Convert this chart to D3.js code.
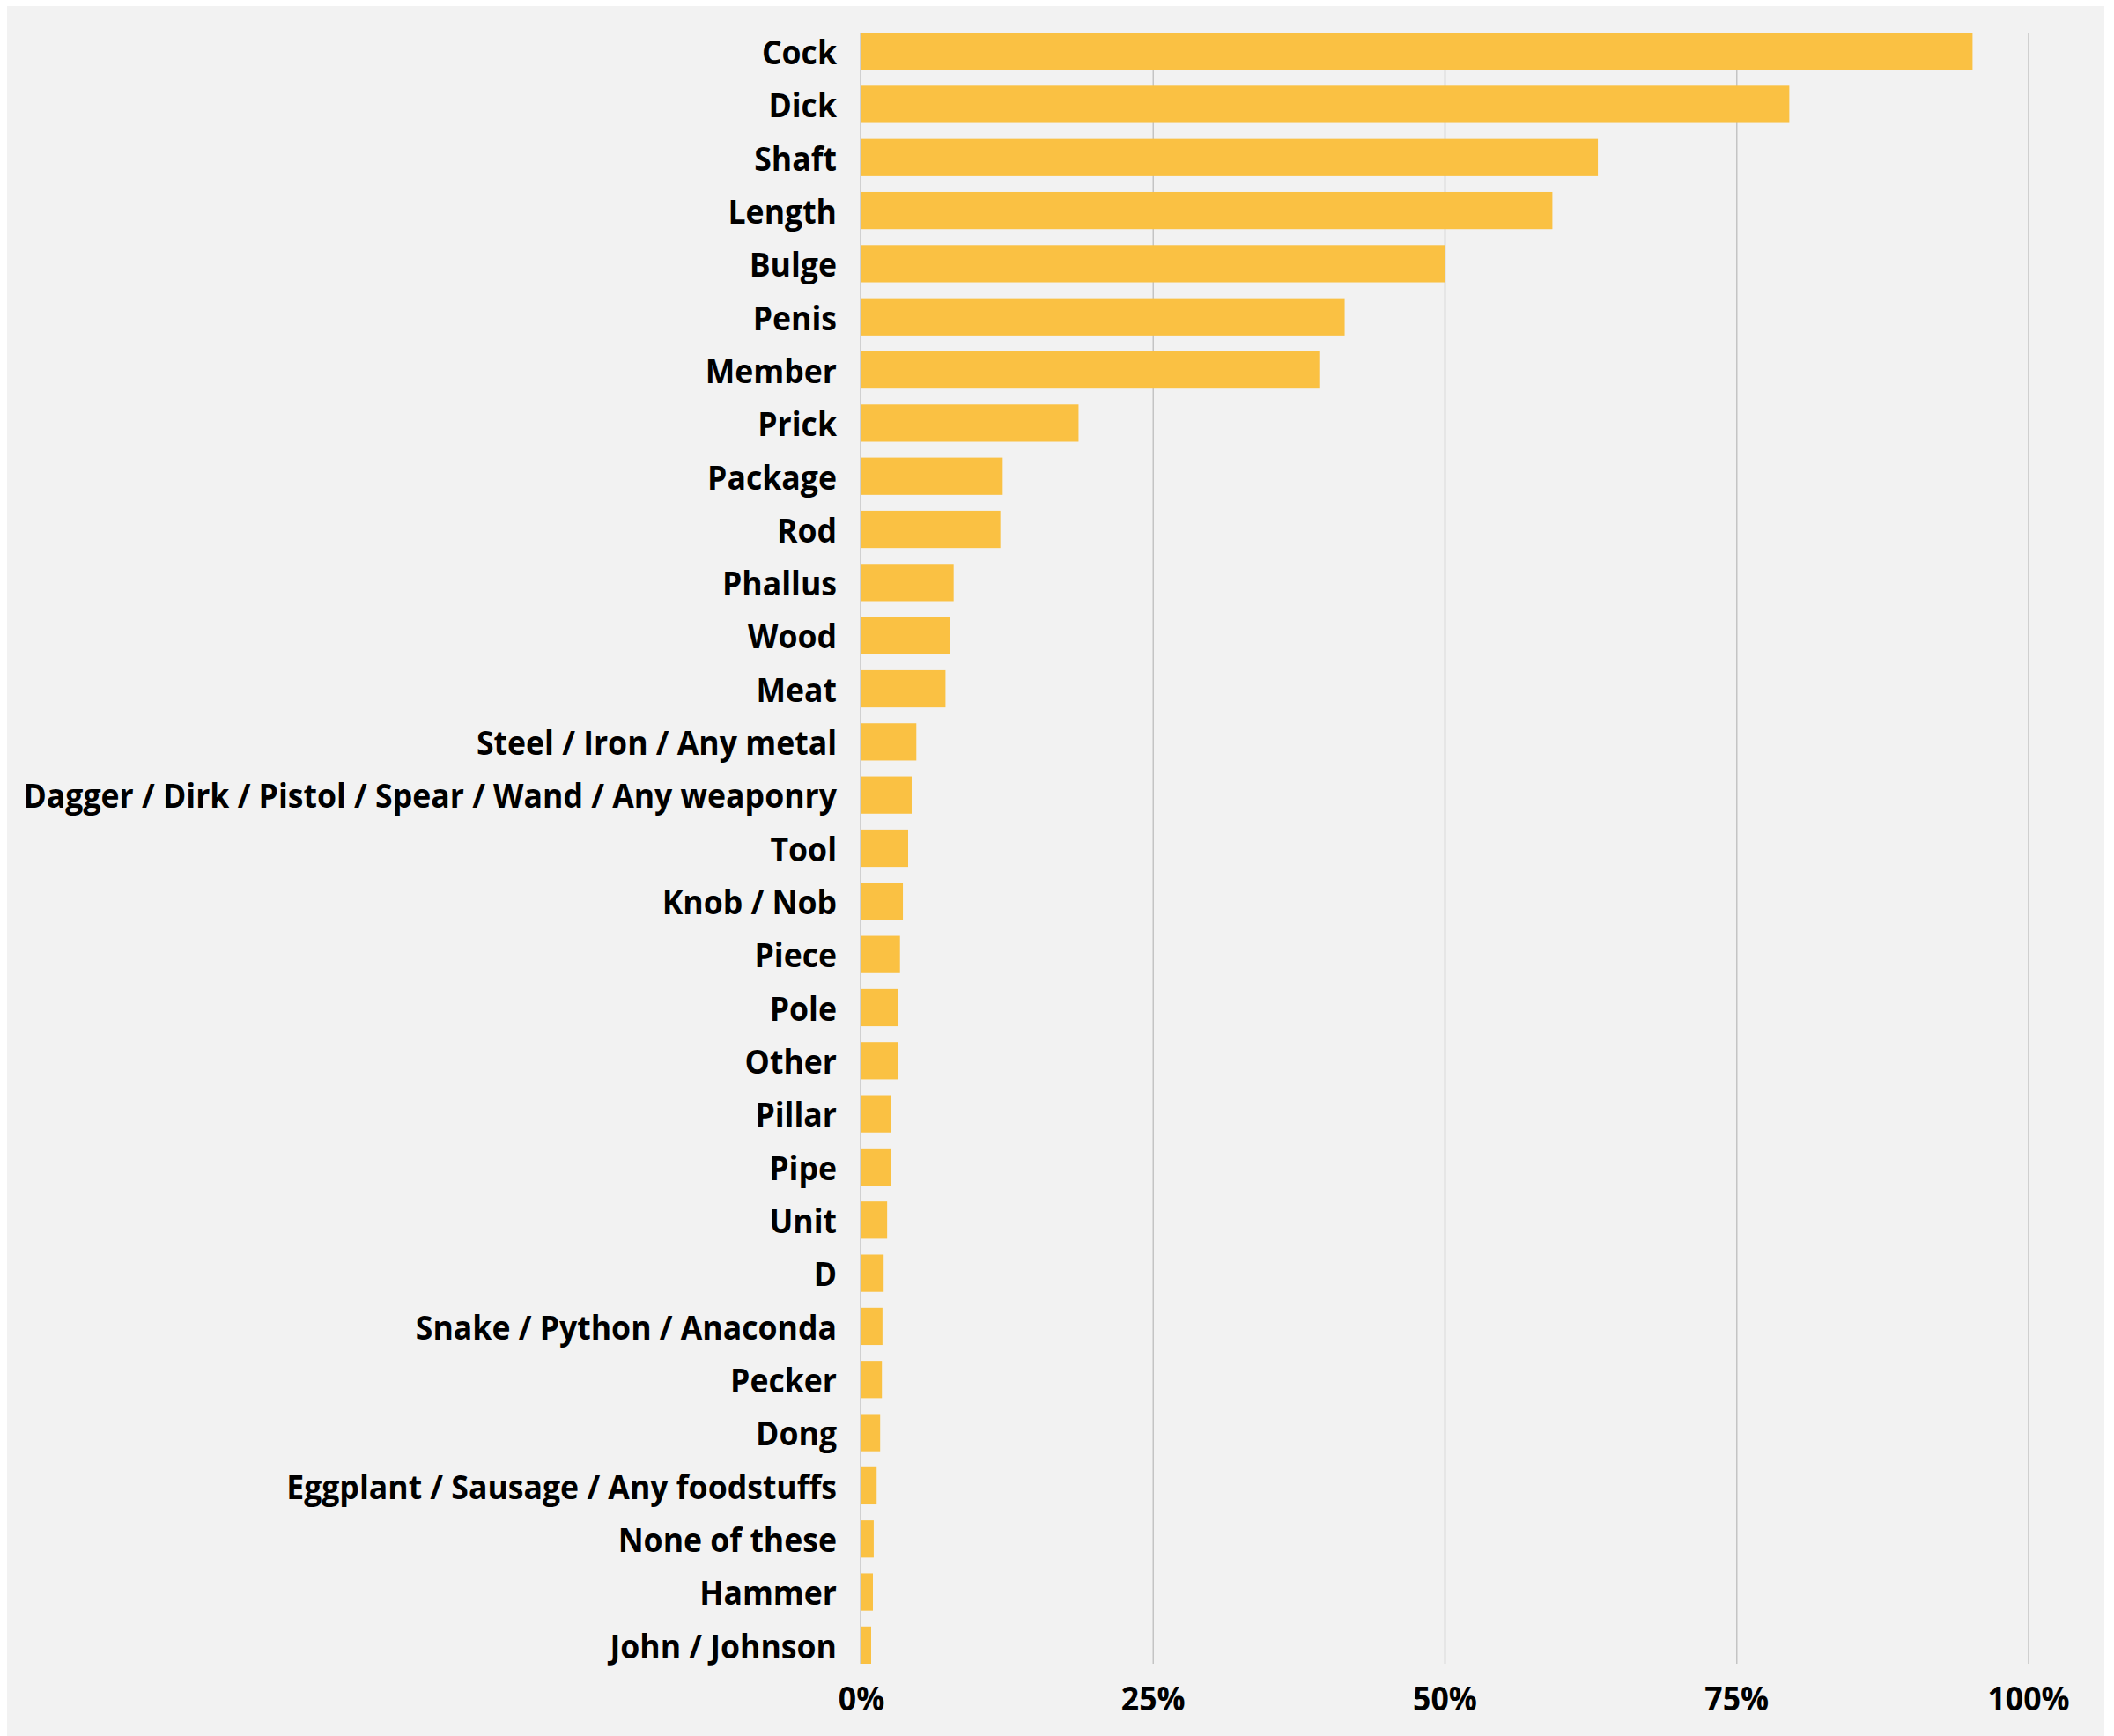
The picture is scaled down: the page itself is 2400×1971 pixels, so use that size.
<!DOCTYPE html>
<html>
<head>
<meta charset="utf-8">
<script src="https://cdn.jsdelivr.net/npm/d3@7"></script>
<style>
  html, body { margin: 0; padding: 0; background: #ffffff; }
  svg { display: block; }
  text { font-family: "Open Sans", "Noto Sans", sans-serif; font-weight: 700; fill: #000; }
</style>
</head>
<body>
<svg id="chart" width="2400" height="1971"></svg>
<script>
const categories = ["Cock","Dick","Shaft","Length","Bulge","Penis","Member","Prick","Package","Rod","Phallus","Wood","Meat","Steel / Iron / Any metal","Dagger / Dirk / Pistol / Spear / Wand / Any weaponry","Tool","Knob / Nob","Piece","Pole","Other","Pillar","Pipe","Unit","D","Snake / Python / Anaconda","Pecker","Dong","Eggplant / Sausage / Any foodstuffs","None of these","Hammer","John / Johnson"];
const values = [95.2,79.5,63.1,59.2,50.0,41.4,39.3,18.6,12.1,11.9,7.9,7.6,7.2,4.7,4.3,4.0,3.55,3.3,3.15,3.1,2.55,2.5,2.2,1.9,1.8,1.75,1.6,1.3,1.05,0.98,0.83];
const tickValues = [0,25,50,75,100];
const tickLabels = ["0%","25%","50%","75%","100%"];

const svg = d3.select("#chart");
svg.append("rect").attr("x",8).attr("y",7).attr("width",2381).attr("height",1964).attr("fill","#f2f2f2");

const x = d3.scaleLinear().domain([0,100]).range([978,2303]);
const y = d3.scaleBand().domain(categories).range([37,1889]).paddingInner(0.3).paddingOuter(0);

// gridlines
svg.append("g").selectAll("line").data(tickValues).join("line")
  .attr("x1", d => x(d) - (d===0?1:0)).attr("x2", d => x(d) - (d===0?1:0))
  .attr("y1", 37).attr("y2", 1889)
  .attr("stroke", "#c4c4c4").attr("stroke-width", 1.5);

// bars
svg.append("g").selectAll("rect").data(categories).join("rect")
  .attr("x", x(0))
  .attr("y", d => y(d))
  .attr("width", (d,i) => x(values[i]) - x(0))
  .attr("height", y.bandwidth())
  .attr("fill", "#fac143");

// category labels
const fs = 37;
const labG = svg.append("g").attr("transform","translate(950,0)");
const labs = labG.selectAll("text").data(categories).join("text")
  .attr("x", 0)
  .attr("y", d => y(d) + y.bandwidth()/2)
  .attr("dy", "0.4em")
  .attr("text-anchor","end")
  .attr("font-size", fs)
  .text(d => d);

// compress horizontally to match the condensed face of the original
const ref = labs.filter(d => d.startsWith("Dagger")).node();
const w = ref.getComputedTextLength();
const k = Math.min(1, 924 / w);
labG.attr("transform", `translate(950,0) scale(${k},1)`);

// x tick labels
svg.append("g").selectAll("text").data(tickValues).join("text")
  .attr("transform", d => `translate(${x(d)},1942) scale(${k},1)`)
  .attr("text-anchor","middle")
  .attr("font-size", fs)
  .text((d,i) => tickLabels[i]);
</script>
</body>
</html>
